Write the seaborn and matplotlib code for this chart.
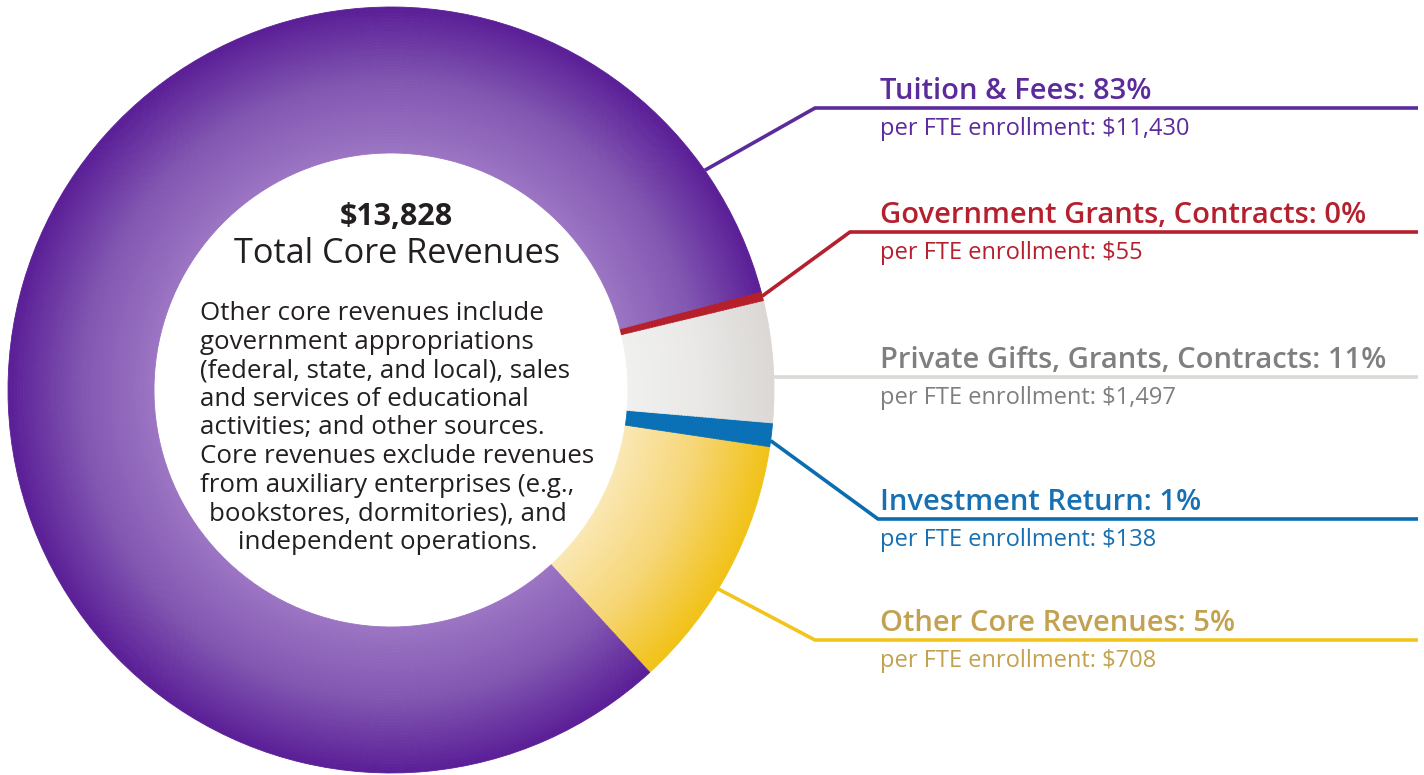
import numpy as np
import matplotlib
matplotlib.use("Agg")
import matplotlib.pyplot as plt
import seaborn as sns

# data
categories = ["Tuition & Fees", "Government Grants, Contracts",
              "Private Gifts, Grants, Contracts", "Investment Return",
              "Other Core Revenues"]
shares = [83, 0, 11, 1, 5]
per_fte = [11430, 55, 1497, 138, 708]
total = 13828

# ring is drawn counter-clockwise starting at the lower right
ring_order = [2, 3, 4, 1, 0]
ring_values = [per_fte[i] for i in ring_order]

note_lines = ["Other core revenues include",
              "government appropriations",
              "(federal, state, and local), sales",
              "and services of educational",
              "activities; and other sources.",
              "Core revenues exclude revenues",
              "from auxiliary enterprises (e.g.,",
              "bookstores, dormitories), and",
              "independent operations."]

# styles
ring_grad = [["#fae7b2", "#f6d676", "#f1c218"],   # yellow
             ["#0a70b6", "#0a70b6"],               # blue
             ["#f0f0ee", "#e9e8e6", "#dbd8d5"],    # grey
             ["#b51f2b", "#b51f2b"],               # red
             ["#9b74c3", "#8156b1", "#5b1f97"]]    # purple
text_colors = ["#5b2b9c", "#b5202e", "#7f7f7f", "#1670b3", "#c2a250"]
line_colors = ["#5b2b9c", "#b5202e", "#dcd9d6", "#0a6db0", "#f2c41c"]

W, H = 1424, 775
cx, cy = 391, H - 390
r_in, r_out = 237, 383
start_angle = -47.5

sns.set_theme(style="white")
plt.rcParams['font.family'] = ['Open Sans', 'DejaVu Sans']

fig = plt.figure(figsize=(W / 100, H / 100), dpi=100)
ax = fig.add_axes([0, 0, 1, 1])

# gradient ring built from thin concentric bands
n_bands = 48
edges = np.linspace(r_in, r_out, n_bands + 1)
grads = [sns.blend_palette(g, n_colors=n_bands) for g in ring_grad]
for i in range(n_bands):
    wedges, _ = ax.pie(ring_values, radius=edges[i + 1], center=(cx, cy),
                       startangle=start_angle, counterclock=True,
                       colors=[g[i] for g in grads],
                       wedgeprops=dict(width=edges[i + 1] - edges[i], linewidth=0))
    for w in wedges:
        w.set_edgecolor(w.get_facecolor())
        w.set_linewidth(0.6)

# leader lines: anchor angle on the ring, elbow, horizontal level
anchor_deg = [35, 14.2, 2.0, -7.6, -31.3]
elbow_x = [815, 850, None, 878, 815]
level_y = [108, 232, 377, 519, 640]
line_end = 1418

for k in range(len(categories)):
    a = np.deg2rad(anchor_deg[k])
    x0, y0 = cx + r_out * np.cos(a), cy + r_out * np.sin(a)
    ly = H - level_y[k]
    if elbow_x[k] is None:
        xs, ys = [x0, line_end], [ly, ly]
    else:
        xs, ys = [x0, elbow_x[k], line_end], [y0, ly, ly]
    ax.plot(xs, ys, color=line_colors[k], lw=2.6, solid_capstyle='butt',
            solid_joinstyle='miter', zorder=1)
    ax.text(880, ly + 9, f"{categories[k]}: {shares[k]}%", color=text_colors[k],
            fontsize=21, fontweight='semibold', ha='left', va='baseline')
    ax.text(880, ly - 27, f"per FTE enrollment: ${per_fte[k]:,}", color=text_colors[k],
            fontsize=17, ha='left', va='baseline')

# centre text
dark = "#231f20"
ax.text(396, H - 225, f"${total:,}", color=dark, fontsize=22, fontweight='bold',
        ha='center', va='baseline')
ax.text(397, H - 263, "Total Core Revenues", color=dark, fontsize=24.7,
        ha='center', va='baseline')
for j, line in enumerate(note_lines):
    y = H - (320 + 28.6 * j)
    if j < 7:
        ax.text(200, y, line, color=dark, fontsize=18.6, ha='left', va='baseline')
    else:
        ax.text(388, y, line, color=dark, fontsize=18.6, ha='center', va='baseline')

ax.set_xlim(0, W)
ax.set_ylim(0, H)
ax.set_aspect('equal')
ax.axis('off')

fig.savefig("out.png", dpi=100, facecolor="white")
